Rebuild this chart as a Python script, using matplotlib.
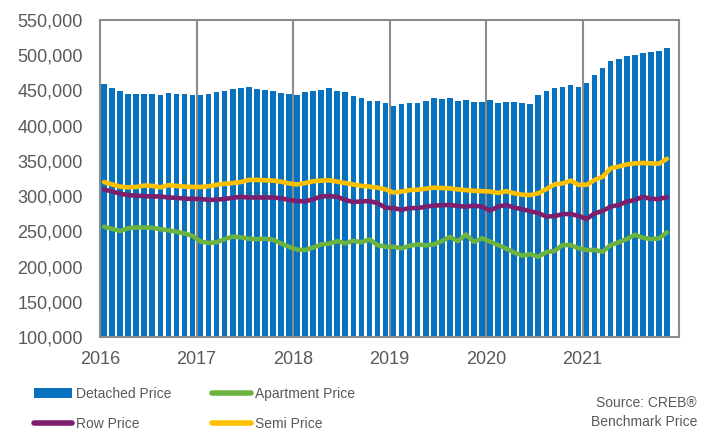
import numpy as np
import matplotlib
matplotlib.use("Agg")
import matplotlib.pyplot as plt
from matplotlib.patches import Patch
from matplotlib.lines import Line2D

# Monthly benchmark prices, Jan 2016 - Nov 2021
detached = [
    458700, 453900, 448800, 445000, 445000, 445000, 444500, 444000, 446400, 444500, 444500, 443100,
    443100, 444500, 447300, 448800, 451600, 453000, 454900, 452100, 451100, 449700, 446400, 445000,
    443500, 447300, 449200, 450600, 453000, 449200, 447300, 441700, 438900, 435500, 434600, 432200,
    428300, 431200, 432600, 432200, 435500, 439700, 437800, 439300, 435000, 436000, 433600, 433200,
    436400, 432600, 434100, 433200, 432200, 430800, 443500, 449200, 453000, 454900, 457300, 454900,
    460600, 471900, 481400, 491800, 494600, 498900, 500300, 502700, 504600, 506000, 510300,
]
apartment = [
    256500, 253500, 250500, 254500, 255500, 255500, 255000, 253000, 251500, 249500, 247000, 243500,
    235500, 233500, 234500, 239000, 242500, 241500, 239500, 239000, 239500, 238000, 233000, 228000,
    224000, 223500, 227000, 231500, 232500, 236000, 233000, 236500, 234500, 238500, 230500, 228000,
    228000, 226000, 229500, 231500, 230000, 231500, 236000, 242000, 236000, 245500, 235000, 240000,
    235500, 230500, 225500, 220000, 215500, 217500, 214000, 220500, 222000, 230500, 230500, 226000,
    223500, 223500, 221000, 230500, 234500, 239000, 245000, 241000, 239000, 240000, 248500,
]
row = [
    309500, 306500, 303500, 301500, 300500, 300000, 299500, 299500, 298000, 297500, 296500, 296000,
    296000, 294500, 295000, 296000, 297500, 299000, 298000, 298000, 298000, 298000, 297000, 294500,
    293000, 292500, 295500, 299500, 300000, 299000, 294500, 291500, 292500, 293000, 290000, 283500,
    283000, 280500, 283000, 283000, 285000, 286500, 287000, 287500, 286000, 285000, 286500, 285000,
    279500, 285000, 287500, 283500, 281500, 278500, 276000, 271000, 271500, 274500, 274500, 272000,
    267500, 275500, 279000, 285000, 287500, 292000, 294500, 299000, 296000, 296000, 298500,
]
semi = [
    320000, 316500, 313500, 312500, 313000, 315000, 314500, 312500, 315500, 314500, 313500, 313000,
    313000, 314000, 316000, 317500, 318500, 320000, 323000, 323000, 322500, 322000, 320500, 318000,
    316500, 318500, 321000, 322000, 322500, 320500, 318500, 316500, 314500, 313500, 312000, 309500,
    305000, 306500, 308500, 309000, 310500, 312000, 311500, 311000, 309500, 308500, 307500, 307000,
    306500, 304500, 307000, 304000, 302000, 301500, 304000, 310000, 316500, 318000, 322000, 316000,
    316000, 323000, 327500, 339500, 342000, 345000, 346500, 347000, 346500, 346000, 353000,
]
years = ["2016", "2017", "2018", "2019", "2020", "2021"]

blue = "#0872bf"
green = "#6db33f"
purple = "#7d1f6c"
gold = "#ffc000"
grey = "#8c8c8c"
text_col = "#595959"

plt.rcParams["font.family"] = ["Liberation Sans", "DejaVu Sans"]
narrow = ["Liberation Sans Narrow", "Liberation Sans", "DejaVu Sans"]

fig = plt.figure(figsize=(7.15, 4.3), dpi=100)
ax = fig.add_axes([0.1399, 0.2163, 0.8098, 0.7372])

x = np.arange(len(detached)) + 0.5
line_kw = dict(lw=3.3, solid_joinstyle="round", solid_capstyle="round")
ax.bar(x, detached, width=0.7, color=blue, zorder=2)
ax.plot(x, apartment, color=green, zorder=3, **line_kw)
ax.plot(x, row, color=purple, zorder=3, **line_kw)
ax.plot(x, semi, color=gold, zorder=4, **line_kw)

ax.set_xlim(0, 72)
ax.set_ylim(100000, 550000)
ax.set_yticks(np.arange(100000, 550001, 50000))
ax.yaxis.set_major_formatter(matplotlib.ticker.FuncFormatter(lambda v, p: f"{int(v):,}"))
ax.set_xticks(np.arange(len(years)) * 12)
ax.set_xticklabels(years)
ax.tick_params(length=0, labelsize=13, colors=text_col)
ax.tick_params(axis="y", pad=12.5)
ax.tick_params(axis="x", pad=10)
ax.xaxis.grid(True, color=grey, lw=1.5, zorder=1)
for s in ax.spines.values():
    s.set_color(grey)
    s.set_linewidth(1.5)

handles = [
    Patch(facecolor=blue, edgecolor="none"),
    Line2D([], [], color=purple, lw=4, solid_capstyle="round"),
    Line2D([], [], color=green, lw=4, solid_capstyle="round"),
    Line2D([], [], color=gold, lw=4, solid_capstyle="round"),
]
labels = ["Detached Price", "Row Price", "Apartment Price", "Semi Price"]
fig.legend(handles, labels, ncol=2, loc="upper left", bbox_to_anchor=(0.047, 0.100),
           frameon=False, handlelength=2.75, handleheight=0.65, handletextpad=0.3,
           columnspacing=2.95, labelspacing=1.15, borderaxespad=0, borderpad=0,
           labelcolor=text_col, prop={"family": narrow, "size": 10})

fig.text(0.975, 0.041, "Source: CREB®\nBenchmark Price", ha="right", va="center",
         color=text_col, family=narrow, fontsize=10, linespacing=1.45)

fig.savefig("out.png", dpi=100)
